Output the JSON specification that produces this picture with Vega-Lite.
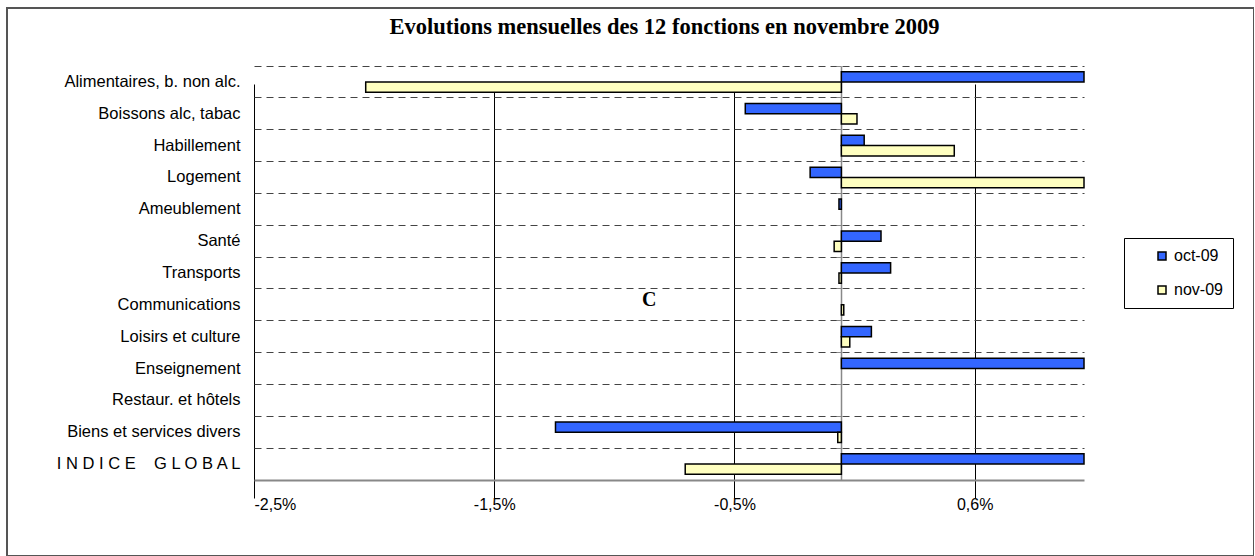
{
  "$schema": "https://vega.github.io/schema/vega-lite/v6.json",
  "autosize": "none",
  "width": 1247,
  "height": 548,
  "padding": {"left": 7, "top": 8, "right": 0, "bottom": 0},
  "background": "white",
  "config": {
    "view": {"stroke": "#555", "strokeWidth": 2},
    "font": "Liberation Sans",
    "axis": {"labelFont": "Liberation Sans", "labelColor": "#000", "labelFontSize": 16}
  },
  "title": {
    "text": "Evolutions mensuelles des 12 fonctions en novembre 2009",
    "font": "Liberation Serif",
    "fontSize": 22.5,
    "fontWeight": "bold",
    "color": "#000",
    "anchor": "middle",
    "baseline": "alphabetic",
    "dx": 34,
    "offset": -48
  },
  "datasets": {
    "bars": [
      {"cat": "Alimentaires, b. non alc.", "series": "oct-09", "value": 1.01},
      {"cat": "Alimentaires, b. non alc.", "series": "nov-09", "value": -1.98},
      {"cat": "Boissons alc, tabac", "series": "oct-09", "value": -0.40},
      {"cat": "Boissons alc, tabac", "series": "nov-09", "value": 0.065},
      {"cat": "Habillement", "series": "oct-09", "value": 0.095},
      {"cat": "Habillement", "series": "nov-09", "value": 0.47},
      {"cat": "Logement", "series": "oct-09", "value": -0.13},
      {"cat": "Logement", "series": "nov-09", "value": 1.01},
      {"cat": "Ameublement", "series": "oct-09", "value": -0.01},
      {"cat": "Ameublement", "series": "nov-09", "value": 0},
      {"cat": "Santé", "series": "oct-09", "value": 0.165},
      {"cat": "Santé", "series": "nov-09", "value": -0.03},
      {"cat": "Transports", "series": "oct-09", "value": 0.205},
      {"cat": "Transports", "series": "nov-09", "value": -0.01},
      {"cat": "Communications", "series": "oct-09", "value": 0},
      {"cat": "Communications", "series": "nov-09", "value": 0.01},
      {"cat": "Loisirs et culture", "series": "oct-09", "value": 0.125},
      {"cat": "Loisirs et culture", "series": "nov-09", "value": 0.035},
      {"cat": "Enseignement", "series": "oct-09", "value": 1.01},
      {"cat": "Enseignement", "series": "nov-09", "value": 0},
      {"cat": "Restaur. et hôtels", "series": "oct-09", "value": 0},
      {"cat": "Restaur. et hôtels", "series": "nov-09", "value": 0},
      {"cat": "Biens et services divers", "series": "oct-09", "value": -1.19},
      {"cat": "Biens et services divers", "series": "nov-09", "value": -0.015},
      {"cat": "INDICE GLOBAL", "series": "oct-09", "value": 1.01},
      {"cat": "INDICE GLOBAL", "series": "nov-09", "value": -0.65}
    ],
    "notes": [
      {"note": "C", "x": -0.8, "cat": "Communications"}
    ]
  },
  "layer": [
    {
      "data": {"name": "bars"},
      "transform": [{"filter": "datum.value != 0"}],
      "mark": {"type": "bar", "stroke": "#000", "strokeWidth": 1.5},
      "encoding": {
        "y": {
          "field": "cat",
          "type": "nominal",
          "scale": {
            "domain": ["Alimentaires, b. non alc.", "Boissons alc, tabac", "Habillement", "Logement", "Ameublement", "Santé", "Transports", "Communications", "Loisirs et culture", "Enseignement", "Restaur. et hôtels", "Biens et services divers", "INDICE GLOBAL"],
            "range": [58, 472],
            "paddingInner": 0,
            "paddingOuter": 0
          },
          "axis": {
            "title": null,
            "orient": "left",
            "offset": -834,
            "bandPosition": 0,
            "grid": true,
            "gridDash": [7, 5],
            "gridColor": "#444",
            "gridWidth": 1,
            "domainColor": "#888",
            "domainWidth": 1.5,
            "tickColor": "#888",
            "tickSize": 5,
            "labelPadding": 596,
            "labelLimit": 400,
            "labelFontSize": 16.5,
            "labelExpr": "datum.value == 'INDICE GLOBAL' ? 'I N D I C E \u00a0\u00a0\u00a0G L O B A L' : datum.value"
          }
        },
        "yOffset": {
          "field": "series",
          "type": "nominal",
          "sort": ["oct-09", "nov-09"],
          "scale": {"paddingInner": 0, "paddingOuter": 0.55}
        },
        "x": {
          "field": "value",
          "type": "quantitative",
          "scale": {"domain": [-2.445, 1.01], "range": [247, 1077], "clamp": true, "nice": false, "zero": false},
          "axis": {
            "title": null,
            "orient": "bottom",
            "offset": -76,
            "values": [-2.445, -1.445, -0.445, 0.555],
            "labelExpr": "datum.value < -2 ? '-2,5%' : datum.value < -1 ? '-1,5%' : datum.value < 0 ? '-0,5%' : '0,6%'",
            "grid": true,
            "gridColor": "#000",
            "gridWidth": 1,
            "domainColor": "#888",
            "domainWidth": 2,
            "tickColor": "#000",
            "tickSize": 5,
            "labelPadding": 11
          }
        },
        "color": {
          "field": "series",
          "type": "nominal",
          "scale": {"domain": ["oct-09", "nov-09"], "range": ["#3366FF", "#FFFFC0"]},
          "legend": {
            "orient": "none",
            "legendX": 1117,
            "legendY": 230,
            "title": null,
            "strokeColor": "#000",
            "fillColor": "#fff",
            "padding": 10,
            "symbolType": "square",
            "symbolSize": 64,
            "symbolStrokeColor": "#000",
            "symbolStrokeWidth": 1.5,
            "symbolOpacity": 1,
            "symbolOffset": 20,
            "labelFontSize": 16,
            "labelColor": "#000",
            "labelOffset": 4,
            "rowPadding": 18,
            "labelExpr": "datum.label + '\u2003\u2003'"
          }
        }
      }
    },
    {
      "data": {"name": "notes"},
      "mark": {"type": "text", "font": "Liberation Serif", "fontWeight": "bold", "fontSize": 20, "baseline": "middle", "align": "center", "dy": -5, "color": "#000"},
      "encoding": {
        "x": {"field": "x", "type": "quantitative"},
        "y": {"field": "cat", "type": "nominal"},
        "text": {"field": "note"}
      }
    }
  ]
}
